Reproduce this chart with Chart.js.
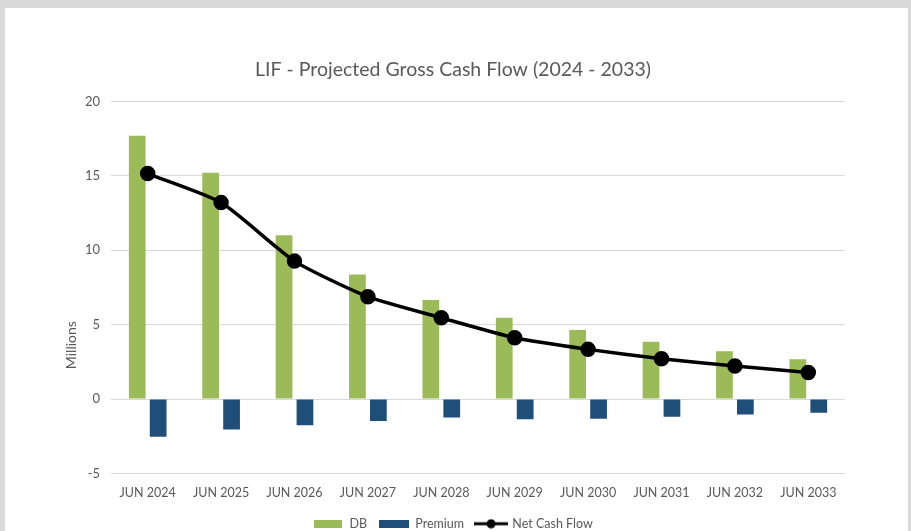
<!DOCTYPE html>
<html>
<head>
<meta charset="utf-8">
<script src="https://cdn.jsdelivr.net/npm/chart.js@4.4.1/dist/chart.umd.min.js"></script>
<style>
  html, body { margin: 0; padding: 0; background: #d9d9d9; overflow: hidden; }
  #wrap { position: absolute; left: 5px; top: 8px; width: 903px; height: 532px; background: #fff; }
</style>
</head>
<body>
<div id="wrap"><canvas id="cashFlow" width="903" height="532"></canvas></div>
<script>
const years = ['JUN 2024', 'JUN 2025', 'JUN 2026', 'JUN 2027', 'JUN 2028', 'JUN 2029', 'JUN 2030', 'JUN 2031', 'JUN 2032', 'JUN 2033'];
const dbValues = [17.7, 15.2, 11.0, 8.37, 6.65, 5.46, 4.64, 3.85, 3.22, 2.67];
const premiumValues = [-2.53, -2.04, -1.75, -1.48, -1.23, -1.36, -1.32, -1.19, -1.03, -0.92];
const netValues = [15.15, 13.2, 9.27, 6.88, 5.46, 4.12, 3.34, 2.71, 2.22, 1.79];
const yTicks = [-5, 0, 5, 10, 15, 20];

const green = '#9bbb59';
const blue = '#1f4e79';
const grey = '#595959';
const fontFamily = 'Lato, "Open Sans", sans-serif';

// little legend swatches like the excel ones
function swatch(w, h, draw) {
    const c = document.createElement('canvas');
    c.width = w;
    c.height = h;
    draw(c.getContext('2d'));
    return c;
}
const dbSwatch = swatch(28, 8, g => { g.fillStyle = green; g.fillRect(0, 0, 28, 8); });
const premSwatch = swatch(30, 8, g => { g.fillStyle = blue; g.fillRect(0, 0, 30, 8); });
const netSwatch = swatch(34, 10, g => {
    g.strokeStyle = '#000';
    g.lineWidth = 3;
    g.beginPath(); g.moveTo(0, 5); g.lineTo(34, 5); g.stroke();
    g.fillStyle = '#000';
    g.beginPath(); g.arc(17, 5, 4.5, 0, Math.PI * 2); g.fill();
});
const swatches = [dbSwatch, premSwatch, netSwatch];

// y axis title sits lower than the middle in the original, so draw it by hand
const yTitlePlugin = {
    id: 'yTitle',
    afterDraw(chart) {
        const area = chart.chartArea;
        const c = chart.ctx;
        c.save();
        c.translate(area.left - 40, area.top + (area.bottom - area.top) * 0.655);
        c.rotate(-Math.PI / 2);
        c.font = '14px ' + fontFamily;
        c.fillStyle = grey;
        c.textAlign = 'center';
        c.textBaseline = 'middle';
        c.fillText('Millions', 0, 0);
        c.restore();
    }
};

const ctx = document.getElementById('cashFlow');
const cashChart = new Chart(ctx, {
    type: 'bar',
    data: {
        labels: years,
        datasets: [{
            label: 'DB',
            data: dbValues,
            backgroundColor: green,
            order: 2,
            categoryPercentage: 0.57,
            barPercentage: 0.8
        }, {
            label: 'Premium',
            data: premiumValues,
            backgroundColor: blue,
            order: 3,
            categoryPercentage: 0.57,
            barPercentage: 0.8
        }, {
            type: 'line',
            label: 'Net Cash Flow',
            data: netValues,
            borderColor: '#000',
            backgroundColor: '#000',
            borderWidth: 3.5,
            pointRadius: 6,
            pointBackgroundColor: '#000',
            tension: 0.2,
            order: 1
        }]
    },
    options: {
        responsive: false,
        animation: false,
        // left/right padding keeps title + legend centred like excel does
        layout: { padding: { left: 28, right: 35, top: 0, bottom: 0 } },
        plugins: {
            title: {
                display: true,
                text: 'LIF - Projected Gross Cash Flow (2024 - 2033)',
                color: grey,
                font: { family: fontFamily, size: 19.5, weight: 'normal' },
                padding: { top: 50, bottom: 20 }
            },
            legend: {
                position: 'bottom',
                labels: {
                    color: grey,
                    font: { family: fontFamily, size: 12.5 },
                    usePointStyle: true,
                    pointStyleWidth: 30,
                    padding: 12,
                    generateLabels(chart) {
                        const items = Chart.defaults.plugins.legend.labels.generateLabels(chart);
                        items.sort((a, b) => a.datasetIndex - b.datasetIndex);
                        items.forEach(item => { item.pointStyle = swatches[item.datasetIndex]; });
                        return items;
                    }
                }
            },
            tooltip: { enabled: false }
        },
        scales: {
            x: {
                grid: { display: false, drawTicks: false },
                border: { display: false },
                ticks: { color: grey, font: { family: fontFamily, size: 12.5 }, padding: 12 },
                afterFit(scale) { scale.height = 32; }
            },
            y: {
                min: -5,
                max: 20,
                afterBuildTicks(scale) { scale.ticks = yTicks.map(v => ({ value: v })); },
                grid: { color: '#d9d9d9', drawTicks: false },
                border: { display: false },
                ticks: { color: grey, font: { family: fontFamily, size: 13 }, padding: 11 },
                afterFit(scale) { scale.width = 78; }
            },
            // empty spacer on the right so the plot ends where excel's does
            spacer: {
                type: 'linear',
                position: 'right',
                grid: { display: false, drawTicks: false },
                border: { display: false },
                ticks: { display: false },
                afterFit(scale) { scale.width = 28; }
            }
        }
    },
    plugins: [yTitlePlugin]
});
</script>
</body>
</html>
